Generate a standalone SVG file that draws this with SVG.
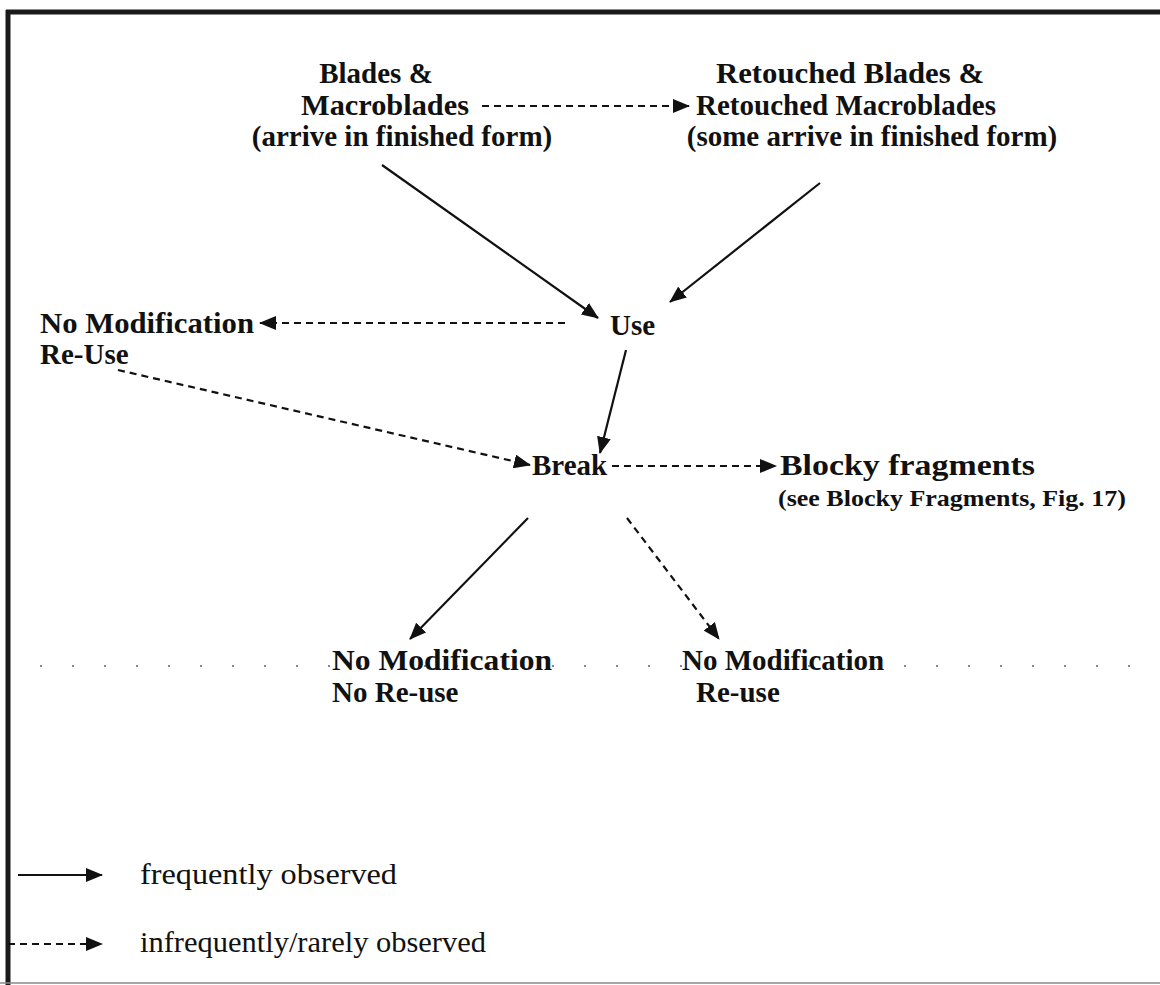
<svg xmlns="http://www.w3.org/2000/svg" width="1160" height="985" viewBox="0 0 1160 985">
<defs>
<style>
.t{font-family:"Liberation Serif","Times New Roman",serif;font-weight:bold;font-size:29px;fill:#111}
.s{font-family:"Liberation Serif","Times New Roman",serif;font-weight:bold;font-size:23px;fill:#111}
.l{font-family:"Liberation Serif","Times New Roman",serif;font-size:30px;fill:#111}
.solid{stroke:#111;stroke-width:2.2;fill:none}
.dash{stroke:#111;stroke-width:2.2;fill:none;stroke-dasharray:7,5}
</style>
<marker id="ah" markerUnits="userSpaceOnUse" markerWidth="17" markerHeight="14" refX="16" refY="7" orient="auto">
<path d="M0,0 L17,7 L0,14 Z" fill="#111"/>
</marker>
</defs>
<rect width="1160" height="985" fill="#fff"/>
<g id="frame">
<line x1="6" y1="12" x2="1160" y2="12" stroke="#1a1a1a" stroke-width="5"/>
<line x1="8" y1="10" x2="8" y2="985" stroke="#1a1a1a" stroke-width="5"/>
<line x1="0" y1="983" x2="1160" y2="983" stroke="#888" stroke-width="1.5"/>
<line x1="40" y1="666" x2="1160" y2="666" stroke="#888" stroke-width="2" stroke-dasharray="2,30"/>
</g>
<g id="connectors">
<line class="dash" x1="482" y1="106" x2="689" y2="106" marker-end="url(#ah)"/>
<line class="solid" x1="382" y1="165" x2="598" y2="318" marker-end="url(#ah)"/>
<line class="solid" x1="820" y1="183" x2="670" y2="302" marker-end="url(#ah)"/>
<line class="dash" x1="565" y1="323" x2="260" y2="323" marker-end="url(#ah)"/>
<line class="dash" x1="118" y1="370" x2="530" y2="465" marker-end="url(#ah)"/>
<line class="solid" x1="626" y1="350" x2="600" y2="453" marker-end="url(#ah)"/>
<line class="dash" x1="612" y1="466" x2="776" y2="466" marker-end="url(#ah)"/>
<line class="solid" x1="528" y1="518" x2="410" y2="639" marker-end="url(#ah)"/>
<line class="dash" x1="627" y1="518" x2="719" y2="639" marker-end="url(#ah)"/>
</g>
<g id="blades">
<text class="t" x="376" y="83" text-anchor="middle">Blades &amp;</text>
<text class="t" x="385" y="115" text-anchor="middle" textLength="168" lengthAdjust="spacingAndGlyphs">Macroblades</text>
<text class="t" x="402" y="146" text-anchor="middle">(arrive in finished form)</text>
</g>
<g id="retouched">
<text class="t" x="850" y="83" text-anchor="middle" textLength="268" lengthAdjust="spacingAndGlyphs">Retouched Blades &amp;</text>
<text class="t" x="846" y="115" text-anchor="middle">Retouched Macroblades</text>
<text class="t" x="872" y="146" text-anchor="middle">(some arrive in finished form)</text>
</g>
<g id="use"><text class="t" x="610" y="335">Use</text></g>
<g id="nomod-reuse">
<text class="t" x="40" y="333" textLength="214" lengthAdjust="spacingAndGlyphs">No Modification</text>
<text class="t" x="40" y="364">Re-Use</text>
</g>
<g id="break"><text class="t" x="532" y="475">Break</text></g>
<g id="blocky">
<text class="t" x="780" y="475" textLength="255" lengthAdjust="spacingAndGlyphs">Blocky fragments</text>
<text class="s" x="778" y="506" textLength="348" lengthAdjust="spacingAndGlyphs">(see Blocky Fragments, Fig. 17)</text>
</g>
<g id="nomod-noreuse">
<text class="t" x="332" y="670" textLength="220" lengthAdjust="spacingAndGlyphs">No Modification</text>
<text class="t" x="332" y="702">No Re-use</text>
</g>
<g id="nomod-reuse2">
<text class="t" x="682" y="670">No Modification</text>
<text class="t" x="696" y="702">Re-use</text>
</g>
<g id="legend">
<line class="solid" x1="18" y1="875" x2="102" y2="875" marker-end="url(#ah)"/>
<text class="l" x="140" y="884" textLength="257" lengthAdjust="spacingAndGlyphs">frequently observed</text>
<line class="dash" x1="8" y1="944" x2="102" y2="944" marker-end="url(#ah)"/>
<text class="l" x="140" y="952" textLength="346" lengthAdjust="spacingAndGlyphs">infrequently/rarely observed</text>
</g>
</svg>
